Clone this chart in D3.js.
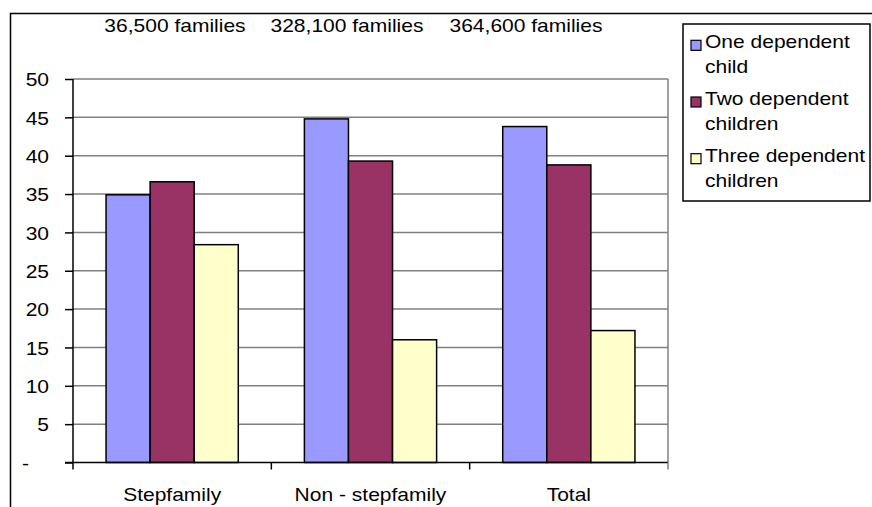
<!DOCTYPE html>
<html>
<head>
<meta charset="utf-8">
<script src="https://cdn.jsdelivr.net/npm/d3@7"></script>
<style>
  html, body { margin: 0; padding: 0; background: #fff; }
  svg { display: block; font-family: "Liberation Sans", Arial, sans-serif; }
</style>
</head>
<body>
<svg id="chart" width="872" height="507"></svg>
<script>
// ---- data ----
const categories = ["Stepfamily", "Non - stepfamily", "Total"];
const seriesNames = [["One dependent", "child"], ["Two dependent", "children"], ["Three dependent", "children"]];
const oneChild = [34.9, 44.8, 43.8];
const twoChildren = [36.6, 39.3, 38.8];
const threeChildren = [28.4, 16.0, 17.2];
const familyCounts = ["36,500 families", "328,100 families", "364,600 families"];
const yTickValues = [0, 5, 10, 15, 20, 25, 30, 35, 40, 45, 50];
const yTickLabels = ["-", "5", "10", "15", "20", "25", "30", "35", "40", "45", "50"];
const colors = ["#9999FF", "#993366", "#FFFFCC"];

// ---- layout ----
const plot = { left: 73, right: 668, top: 79, bottom: 462.5 };
const familyLabelX = [175, 347, 526];
const fontSize = 19;
const stretch = 21 / 19;

const svg = d3.select("#chart");

// outer frame (extends past window edges)
svg.append("path")
  .attr("d", "M10.5,507 L10.5,13.5 L872,13.5")
  .attr("fill", "none").attr("stroke", "#000").attr("stroke-width", 1.5);

const x = d3.scaleBand().domain(categories).range([plot.left, plot.right]).padding(0);
const xInner = d3.scaleBand().domain(d3.range(3))
  .range([x.bandwidth() / 6, x.bandwidth() * 5 / 6]).padding(0);
const y = d3.scaleLinear().domain([0, 50]).range([plot.bottom, plot.top]);

// gridlines
svg.append("g").selectAll("line").data(yTickValues.filter(v => v > 0)).join("line")
  .attr("x1", plot.left).attr("x2", plot.right)
  .attr("y1", d => y(d)).attr("y2", d => y(d))
  .attr("stroke", "#808080").attr("stroke-width", 1.5);

// right border of plot area
svg.append("line")
  .attr("x1", plot.right).attr("x2", plot.right)
  .attr("y1", plot.top).attr("y2", plot.bottom)
  .attr("stroke", "#808080").attr("stroke-width", 1.5);

// bars
const values = [oneChild, twoChildren, threeChildren];
const barData = [];
categories.forEach((c, i) => values.forEach((s, j) => barData.push({ c, j, v: s[i] })));
svg.append("g").selectAll("rect").data(barData).join("rect")
  .attr("x", d => x(d.c) + xInner(d.j))
  .attr("y", d => y(d.v))
  .attr("width", xInner.bandwidth())
  .attr("height", d => y(0) - y(d.v))
  .attr("fill", d => colors[d.j])
  .attr("stroke", "#000").attr("stroke-width", 1.5);

// y axis
const yAxis = d3.axisLeft(y).tickValues(yTickValues).tickSize(8)
  .tickFormat((d, i) => yTickLabels[i]);
const gy = svg.append("g").attr("transform", `translate(${plot.left},0)`).call(yAxis);
gy.select(".domain").attr("stroke", "#000").attr("stroke-width", 1.5)
  .attr("d", `M0,${plot.top}V${plot.bottom}`);
gy.selectAll(".tick line").attr("stroke", "#000").attr("stroke-width", 1.5);
gy.selectAll(".tick text")
  .attr("font-family", "Liberation Sans, Arial, sans-serif")
  .attr("font-size", fontSize).attr("fill", "#000")
  .attr("x", -24).attr("dy", "0.35em");
gy.selectAll(".tick").filter(d => d === 0).select("text")
  .attr("text-anchor", "start").attr("x", 22 - plot.left);

// x axis
const gx = svg.append("g").attr("transform", `translate(0,${plot.bottom})`);
gx.append("line").attr("x1", plot.left - 8).attr("x2", plot.right)
  .attr("y1", 0).attr("y2", 0).attr("stroke", "#000").attr("stroke-width", 1.5);
const boundaries = categories.map(c => x(c)).concat([x(categories[2]) + x.bandwidth()]);
gx.selectAll("line.tk").data(boundaries).join("line").attr("class", "tk")
  .attr("x1", d => d).attr("x2", d => d).attr("y1", 0).attr("y2", 7)
  .attr("stroke", d => d === plot.right ? "#808080" : "#000").attr("stroke-width", 1.5);
gx.selectAll("text").data(categories).join("text")
  .attr("x", d => x(d) + x.bandwidth() / 2).attr("y", 501 - plot.bottom)
  .attr("text-anchor", "middle").attr("font-size", fontSize).text(d => d);

// family count annotations
svg.append("g").selectAll("text").data(familyCounts).join("text")
  .attr("x", (d, i) => familyLabelX[i]).attr("y", 32)
  .attr("text-anchor", "middle").attr("font-size", fontSize).text(d => d);

// legend
const lg = svg.append("g");
lg.append("rect").attr("x", 683).attr("y", 24).attr("width", 187).attr("height", 177)
  .attr("fill", "#fff").attr("stroke", "#000").attr("stroke-width", 1.5);
seriesNames.forEach((lines, i) => {
  const base = 48.3 + i * 56.7;
  lg.append("rect").attr("x", 691).attr("y", base - 8).attr("width", 10).attr("height", 10)
    .attr("fill", colors[i]).attr("stroke", "#000").attr("stroke-width", 1.2);
  lines.forEach((t, k) => {
    lg.append("text").attr("x", 705).attr("y", base + k * 25)
      .attr("font-size", fontSize).text(t);
  });
});

// widen glyphs horizontally to match the reference's wide text
svg.selectAll("text").each(function () {
  const w = this.getComputedTextLength();
  if (w > 0) d3.select(this).attr("textLength", w * stretch).attr("lengthAdjust", "spacingAndGlyphs");
});
</script>
</body>
</html>
